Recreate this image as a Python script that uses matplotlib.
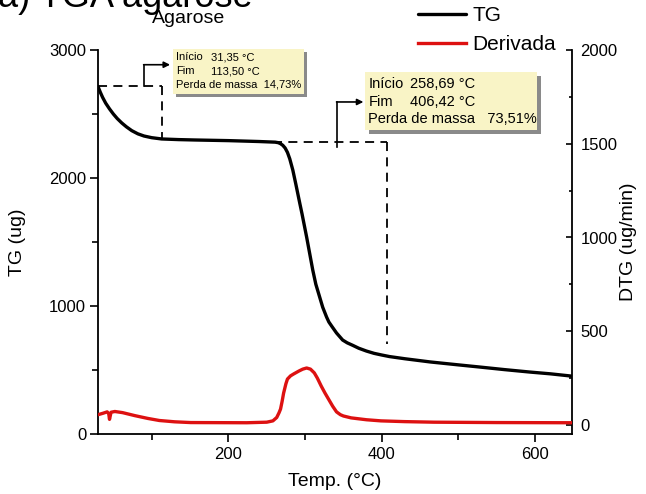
import matplotlib
matplotlib.use("Agg")
import matplotlib.pyplot as plt
from matplotlib.patches import Rectangle
import matplotlib.patheffects as pe
from matplotlib.ticker import MultipleLocator

plt.rcParams['font.family'] = ['Liberation Sans', 'DejaVu Sans']

# ---- data ----
tg_temp = [30, 33, 36, 40, 45, 50, 55, 61, 67, 74, 82, 90, 100, 113, 135, 156, 200,
           240, 261, 265, 268, 271, 274, 277, 280, 284, 288, 293, 296, 302, 306,
           310, 314, 319, 323, 328, 331, 335, 341, 349, 355, 362, 370, 380, 390,
           400, 410, 430, 463, 500, 528, 560, 593, 620, 648]
tg_mass = [2715, 2670, 2630, 2585, 2540, 2500, 2465, 2430, 2400, 2370, 2345, 2328,
           2315, 2305, 2300, 2297, 2292, 2285, 2280, 2276, 2268, 2255, 2234, 2200,
           2150, 2062, 1950, 1805, 1720, 1539, 1410, 1281, 1170, 1070, 990, 914,
           875, 840, 789, 734, 712, 693, 670, 648, 630, 617, 605, 588, 563, 540,
           523, 503, 484, 470, 452]

dtg_temp = [30, 36, 42, 44, 45, 47, 52, 62, 78, 95, 110, 130, 151, 224, 250, 258,
            263, 266, 268, 270, 272, 275, 277, 281, 285, 292, 297, 302, 307, 312,
            316, 321, 326, 331, 336, 341, 346, 350, 360, 380, 399, 430, 468, 550,
            648]
dtg_rate = [55, 62, 70, 60, 30, 68, 72, 66, 50, 35, 24, 17, 13, 12, 15, 22, 40, 65,
            85, 125, 170, 220, 245, 262, 272, 288, 298, 304, 298, 278, 250, 208,
            170, 135, 100, 70, 55, 48, 38, 28, 22, 18, 15, 13, 12]

step1 = {"inicio": 31.35, "fim": 113.50, "m0": 2720, "m1": 2305}
step2 = {"inicio": 258.69, "fim": 406.42, "m0": 2285, "m1": 700}

box1_labels = ["Início", "Fim", "Perda de massa  14,73%"]
box1_vals = ["31,35 °C", "113,50 °C"]
box2_labels = ["Início", "Fim", "Perda de massa   73,51%"]
box2_vals = ["258,69 °C", "406,42 °C"]

# ---- figure ----
W, H = 646, 494
fig = plt.figure(figsize=(W / 100, H / 100), dpi=100)
ax = fig.add_axes([98 / W, 60 / H, 474 / W, 384 / H])
ax2 = ax.twinx()

l_tg, = ax.plot(tg_temp, tg_mass, color='black', lw=2.4, solid_capstyle='round',
                solid_joinstyle='round', zorder=3)
l_dtg, = ax2.plot(dtg_temp, dtg_rate, color='#DD1111', lw=2.4,
                  solid_joinstyle='round', zorder=3)

ax.set_xlim(30, 648)
ax.set_ylim(0, 3000)
ax2.set_ylim(-48, 2000)

for a in (ax, ax2):
    a.spines['top'].set_visible(False)
    for s in a.spines.values():
        s.set_linewidth(1.3)
ax.spines['right'].set_visible(False)
ax2.spines['left'].set_visible(False)
ax2.spines['bottom'].set_visible(False)

ax.xaxis.set_major_locator(MultipleLocator(200))
ax.xaxis.set_minor_locator(MultipleLocator(100))
ax.yaxis.set_major_locator(MultipleLocator(1000))
ax.yaxis.set_minor_locator(MultipleLocator(500))
ax2.yaxis.set_major_locator(MultipleLocator(500))
ax2.yaxis.set_minor_locator(MultipleLocator(250))

ax.tick_params(axis='both', which='major', direction='out', length=5.5, width=1.2,
               labelsize=12, pad=3)
ax.tick_params(axis='both', which='minor', direction='out', length=4, width=1.2)
ax.tick_params(axis='x', which='major', pad=4)
ax2.tick_params(axis='y', which='major', direction='in', length=4.5, width=1.2,
                labelsize=12, pad=6)
ax2.tick_params(axis='y', which='minor', direction='in', length=2.5, width=1.2)

ax.set_xlabel('Temp. (°C)', fontsize=14)
ax.set_ylabel('TG (ug)', fontsize=14)
ax2.set_ylabel('DTG (ug/min)', fontsize=14)
ax.xaxis.set_label_coords(0.5, -0.102)
ax.yaxis.set_label_coords(-0.152, 0.5)
ax2.yaxis.set_label_coords(1.102, 0.5)

# ---- dashed guide lines ----
dash = dict(color='black', lw=1.3, linestyle=(0, (5, 3.5)), zorder=2, clip_on=False)
ax.plot([30, step1["fim"]], [step1["m0"], step1["m0"]], **dash)
ax.plot([step1["fim"], step1["fim"]], [step1["m0"], step1["m1"]], **dash)
ax.plot([step2["inicio"], step2["fim"]], [step2["m0"], step2["m0"]], **dash)
ax.plot([step2["fim"], step2["fim"]], [step2["m0"], step2["m1"]], **dash)

# ---- bracket arrows ----
ax.plot([90, 90], [step1["m0"], 2885], color='black', lw=1.2, clip_on=False)
ax.annotate('', xy=(124, 2885), xytext=(89.5, 2885),
            arrowprops=dict(arrowstyle='-|>', color='black', lw=1.2,
                            mutation_scale=9, shrinkA=0, shrinkB=0),
            annotation_clip=False)
ax.plot([341.5, 341.5], [step2["m0"] - 40, 2594], color='black', lw=1.2, clip_on=False)
ax.annotate('', xy=(376, 2594), xytext=(341, 2594),
            arrowprops=dict(arrowstyle='-|>', color='black', lw=1.2,
                            mutation_scale=9, shrinkA=0, shrinkB=0),
            annotation_clip=False)

# ---- annotation boxes ----
box_fc = '#F9F4C6'
shadow = '#8a8a8a'

r1 = Rectangle((127.8, 2656), 298.6 - 127.8, 3008 - 2656, fc=box_fc, ec='none',
               zorder=4, clip_on=False)
r1.set_path_effects([pe.withSimplePatchShadow(offset=(2.4, -2.4),
                                              shadow_rgbFace=shadow, alpha=1.0),
                     pe.Normal()])
ax.add_patch(r1)
rows1 = [2918, 2812, 2707]
for i, lab in enumerate(box1_labels):
    ax.text(131.5, rows1[i], lab, fontsize=8, va='baseline', ha='left', zorder=5,
            clip_on=False)
for i, val in enumerate(box1_vals):
    ax.text(177, rows1[i], val, fontsize=8, va='baseline', ha='left', zorder=5,
            clip_on=False)

r2 = Rectangle((378.1, 2375), 602.3 - 378.1, 2828 - 2375, fc=box_fc, ec='none',
               zorder=4, clip_on=False)
r2.set_path_effects([pe.withSimplePatchShadow(offset=(3, -3),
                                              shadow_rgbFace=shadow, alpha=1.0),
                     pe.Normal()])
ax.add_patch(r2)
rows2 = [2707, 2566, 2426]
for i, lab in enumerate(box2_labels):
    ax.text(382.5, rows2[i], lab, fontsize=10.5, va='baseline', ha='left', zorder=5,
            clip_on=False)
for i, val in enumerate(box2_vals):
    ax.text(437, rows2[i], val, fontsize=10.5, va='baseline', ha='left', zorder=5,
            clip_on=False)

# ---- titles ----
fig.text(-0.003, 0.986, 'a) TGA agarose', fontsize=26, ha='left', va='baseline')
fig.text(189 / W, 1 - 23 / H, 'Agarose', fontsize=14, ha='center', va='baseline')

# ---- legend ----
fig.legend([l_tg, l_dtg], ['TG', 'Derivada'], loc='upper left',
           bbox_to_anchor=(418 / W, 0.987), frameon=False, fontsize=15,
           borderpad=0, borderaxespad=0, handlelength=2.3, handletextpad=0.3,
           labelspacing=0.45)

fig.savefig('out.png', dpi=100)
